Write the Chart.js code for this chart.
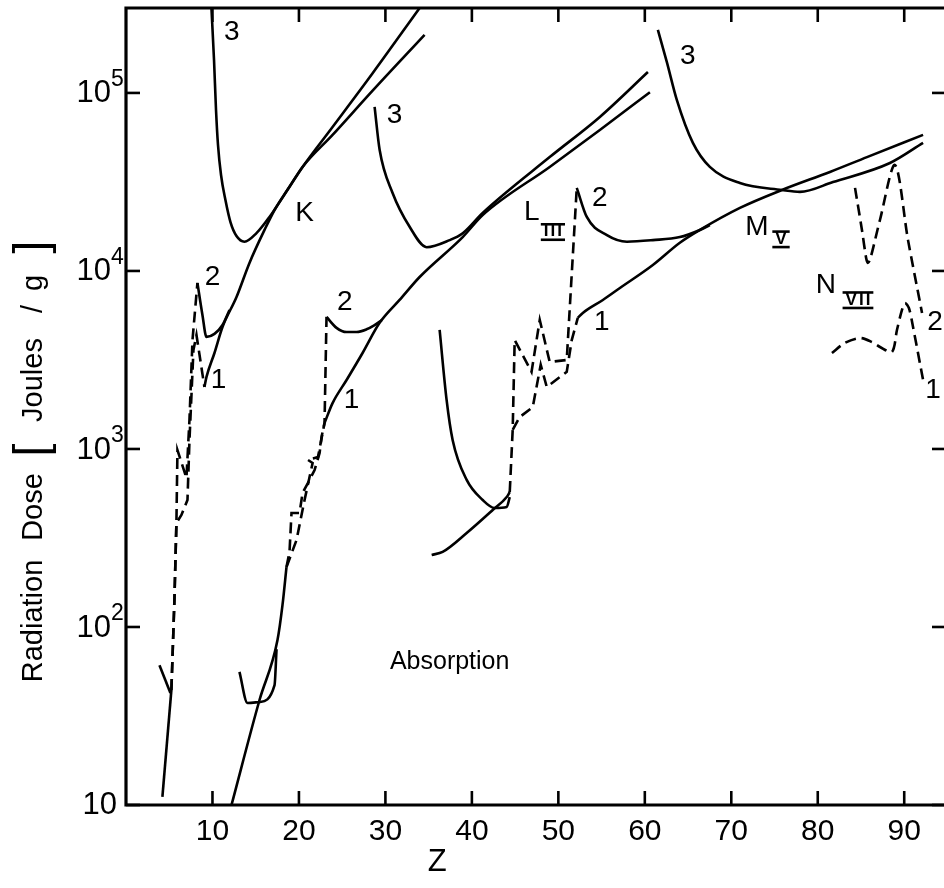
<!DOCTYPE html>
<html><head><meta charset="utf-8">
<script src="https://cdn.jsdelivr.net/npm/chart.js@4.4.1/dist/chart.umd.min.js"></script>
<style>html,body{margin:0;padding:0;background:#fff;}#wrap{width:944px;height:888px;}</style>
</head><body><div id="wrap"><canvas id="c" width="944" height="888"></canvas></div>
<script>
// ---- data: [Z, dose (J/g)] ----
const kAbs    = [[4.21,11.1],[5.25,44.3]];
const kV      = [[3.87,61],[5.14,42.6]];
const kDash2  = [[5.25,44.3],[5.60,142],[5.83,384],[5.95,986],[6.99,687],[7.34,1460],[7.69,4090],[8.26,8570]];
const kDash1  = [[5.25,44.3],[5.60,142],[5.83,384],[6.41,426],[7.11,517],[7.34,1120],[7.80,3600],[8.15,4370],[9.07,2230]];
const kCurve2 = [[8.26,8570],[8.84,5660],[9.31,4260],[10.23,4430],[11.16,4970],[11.97,6040]];
const kCurve1 = [[9.07,2230],[9.31,2540],[10.23,3460],[11.16,4840],[12.78,7140],[14.28,11100],[16.02,17000],[17.18,22000],[18.91,29700],[20.42,38400],[23.89,58100],[28.52,103000],[34.53,212000]];
const kCurve3 = [[9.88,300000],[10.18,153000],[10.41,80200],[10.64,51000],[10.99,34600],[11.50,25000],[12.08,18800],[12.78,15700],[13.70,14600],[15.09,16300],[16.59,20100],[18.91,29700],[20.42,38400],[23.89,64400],[28.52,129000],[33.96,300000]];

const lAbs    = [[12.20,10],[15.44,38.9],[17.52,84.5],[18.10,133],[18.56,217]];
const lU      = [[13.12,55.9],[14.05,37.4],[15.44,37.9],[17.18,47.2],[17.41,75]];
const lDash1  = [[18.56,217],[18.91,264],[19.14,437],[20.07,437],[20.42,566],[21.23,670],[21.81,762],[22.39,950],[22.62,1170],[22.96,1400]];
const lDash2  = [[18.56,217],[19.72,308],[20.65,517],[21.58,834],[21.0,870],[22.2,900],[22.96,1400],[23.19,5520]];
const lCurve2 = [[23.19,5520],[24.35,4790],[25.51,4540],[26.67,4540],[27.82,4700],[28.7,4950],[29.6,5300]];
const lCurve1 = [[22.96,1400],[23.89,1810],[25.51,2440],[27.36,3460],[29.33,5110],[31.64,6870],[33.96,9250],[38.94,15500],[41.25,20600],[49.0,38400],[54.8,61900],[60.59,101000]];
const lCurve3 = [[28.75,83400],[29.33,47900],[30.83,27400],[32.80,17700],[34.77,13600],[37.43,14900],[38.94,16300],[41.25,21200],[49.0,43600],[54.8,73300],[60.36,131000]];

const mAbs    = [[35.35,254],[36.62,264],[39.40,337],[42.41,454],[44.03,537],[44.38,573]];
const mFall   = [[36.27,4660],[37.08,1880],[37.78,1120],[39.40,670],[41.25,517],[42.64,466],[44.03,472],[44.38,537]];
const mDash2  = [[44.38,573],[44.72,1280],[44.95,4090],[46.9,2710],[47.85,5310],[49.0,3080],[50.97,3160],[52.13,29300]];
const mDash1  = [[44.72,1280],[45.53,1510],[47.04,1720],[47.96,2970],[48.66,2230],[50.97,2710],[51.55,4090],[52.25,5450]];
const mCurve2 = [[52.13,29300],[53.29,20100],[55.62,15900],[57.93,14600],[60.93,14900],[64.05,15500],[66.37,17000],[67.52,18100]];
const mCurve1 = [[52.25,5450],[52.83,5810],[55.15,6870],[57.12,8020],[60.93,10800],[64.05,14400],[66.37,17000],[71.0,22600],[75.86,28500],[81.41,36000],[85.69,43600],[92.18,58100]];

const nCurve3 = [[61.51,226000],[62.55,149000],[63.70,91400],[65.56,52400],[67.52,38400],[71.0,31200],[75.86,28500],[77.94,27800],[81.76,31600],[88.35,40400],[92.18,52400]];
const nDash2  = [[84.31,29300],[85.11,17000],[85.6,11800],[85.81,11100],[86.1,11800],[87.2,19400],[88.93,39400],[90.44,14900],[92.06,5810]];
const nDash1  = [[81.64,3460],[83.14,3940],[84.88,4200],[86.27,3990],[87.2,3740],[88.58,3510],[89.16,4660],[89.74,6040],[90.09,6610],[90.55,6170],[91.02,4840],[92.18,2440]];

// ---- ticks & labels ----
const xTickValues = [10,20,30,40,50,60,70,80,90];
const yTickExponents = [1,2,3,4,5];
const curveLabels = [
  ['3',12.22,220000],['K',20.65,21200],['2',10.02,9250],['1',10.69,2440],
  ['2',25.30,6700],['1',26.09,1880],['3',31.06,75200],
  ['2',54.79,25700],['1',55.02,5170],['3',64.98,161000],
  ['2',93.56,5170],['1',93.33,2140]
];
const shellLabels = [
  ['L',46.93,21400,'III',49.37,16600],
  ['M',72.97,17700,'V',75.75,15100],
  ['N',80.95,8340,'VII',84.65,6870]
];
const regionLabel = ['Absorption',37.43,63.6];
const xTitle = 'Z';
const yTitleParts = ['Radiation','Dose','[','Joules','/','g',']'];

const solid = [kAbs,kV,kCurve2,kCurve1,kCurve3,lAbs,lU,lCurve2,lCurve1,lCurve3,mAbs,mFall,mCurve2,mCurve1,nCurve3];
const straightSolid = [kAbs,kV];
const dashed = [kDash2,kDash1,lDash1,lDash2,mDash2,mDash1];
const dashedRound = [nDash2,nDash1];

function mk(arr, opts){
  return Object.assign({data: arr.map(([x,y])=>({x,y})), borderColor:'#000', borderWidth:2.6,
    pointRadius:0, pointHoverRadius:0, fill:false, showLine:true}, opts);
}
const datasets = [];
solid.forEach(a=>{
  if (straightSolid.includes(a)) datasets.push(mk(a,{tension:0}));
  else datasets.push(mk(a,{cubicInterpolationMode:'monotone', tension:0.4}));
});
dashed.forEach(a=>datasets.push(mk(a,{tension:0, borderDash:[11,6]})));
dashedRound.forEach(a=>datasets.push(mk(a,{tension:0.3, borderDash:[11,6]})));

const FONT = '"Liberation Sans", Arial, sans-serif';

const bg = {id:'bg', beforeDraw(c){const x=c.ctx; x.save(); x.fillStyle='#fff'; x.fillRect(0,0,c.width,c.height); x.restore();}};
const deco = {id:'deco', afterDraw(c){
  const ctx=c.ctx, xs=c.scales.x, ys=c.scales.y, a=c.chartArea;
  const line=(x1,y1,x2,y2)=>{ctx.beginPath();ctx.moveTo(x1,y1);ctx.lineTo(x2,y2);ctx.stroke();};
  ctx.save();
  ctx.strokeStyle='#000'; ctx.fillStyle='#000'; ctx.lineCap='butt';
  ctx.lineWidth=3.2;
  ctx.beginPath(); ctx.moveTo(a.right+4,a.top); ctx.lineTo(a.left,a.top); ctx.lineTo(a.left,a.bottom); ctx.lineTo(a.right+4,a.bottom); ctx.stroke();
  ctx.lineWidth=2.6;
  xTickValues.forEach(v=>{const px=xs.getPixelForValue(v); line(px,a.bottom,px,a.bottom-14); line(px,a.top,px,a.top+14);});
  yTickExponents.forEach(e=>{const py=ys.getPixelForValue(Math.pow(10,e)); line(a.left,py,a.left+14,py); line(a.right,py,a.right-12,py);});
  // x tick labels
  ctx.textAlign='center'; ctx.textBaseline='middle';
  ctx.font='30px '+FONT;
  xTickValues.forEach(v=>ctx.fillText(String(v), xs.getPixelForValue(v), a.bottom+27));
  // y tick labels
  yTickExponents.forEach(e=>{
    const py=ys.getPixelForValue(Math.pow(10,e));
    ctx.font='31px '+FONT;
    if(e===1){ctx.textAlign='right'; ctx.fillText('10', a.left-9, py);}
    else {
      ctx.textAlign='right'; ctx.fillText('10', a.left-15, py+1);
      ctx.font='23px '+FONT; ctx.textAlign='left'; ctx.fillText(String(e), a.left-15, py-13);
    }
  });
  // axis titles
  ctx.font='31px '+FONT; ctx.textAlign='center';
  ctx.fillText(xTitle, xs.getPixelForValue(36), a.bottom+57);
  ctx.save();
  ctx.translate(34, 0); ctx.rotate(-Math.PI/2);
  const centers=[621,507,450,380,309,283,247];
  yTitleParts.forEach((t,i)=>{
    const br = (t==='['||t===']');
    ctx.font=(br?'46px ':'29px ')+FONT;
    ctx.fillText(t, -centers[i], br?-1:0);
  });
  ctx.restore();
  // curve labels
  ctx.font='28px '+FONT; ctx.textAlign='center'; ctx.textBaseline='middle';
  curveLabels.forEach(([t,z,d])=>ctx.fillText(t, xs.getPixelForValue(z), ys.getPixelForValue(d)));
  shellLabels.forEach(([t,z,d,s,sz,sd])=>{
    ctx.font='28px '+FONT; ctx.textAlign='center';
    ctx.fillText(t, xs.getPixelForValue(z), ys.getPixelForValue(d));
    const sx=xs.getPixelForValue(sz), sy=ys.getPixelForValue(sd);
    ctx.font='bold 17px '+FONT;
    ctx.letterSpacing='2px';
    const w=ctx.measureText(s).width;
    ctx.fillText(s, sx+1, sy);
    ctx.letterSpacing='0px';
    ctx.lineWidth=2.6;
    line(sx-w/2-2, sy-7.5, sx+w/2+2, sy-7.5);
    line(sx-w/2-2, sy+8, sx+w/2+2, sy+8);
  });
  ctx.font='25px '+FONT; ctx.textAlign='center';
  ctx.fillText(regionLabel[0], xs.getPixelForValue(regionLabel[1]), ys.getPixelForValue(regionLabel[2]));
  ctx.restore();
}};

new Chart(document.getElementById('c'), {
  type:'scatter',
  data:{datasets},
  options:{
    responsive:false, animation:false, devicePixelRatio:1,
    layout:{padding:{left:126, top:8, right:0, bottom:83}},
    plugins:{legend:{display:false}, tooltip:{enabled:false}},
    events:[],
    scales:{
      x:{type:'linear', min:0, max:94.6, display:false},
      y:{type:'logarithmic', min:10, max:300000, display:false}
    }
  },
  plugins:[bg,deco]
});
</script></body></html>
